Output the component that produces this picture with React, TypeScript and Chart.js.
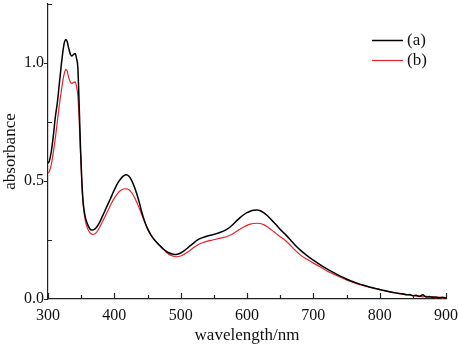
import React, { useEffect, useRef } from "react";
import { Chart, registerables } from "chart.js";

Chart.register(...registerables);

const wavelengthA = [
  300, 302, 305, 308, 311, 314, 317, 320, 323, 325, 327, 329, 331, 334, 336, 338, 341, 343, 345, 347, 349, 351, 353, 356, 360, 363, 366, 370, 374, 378, 382, 386, 390, 394, 398, 402, 406, 410, 414, 418, 422, 426, 430, 434, 438, 441, 445, 450, 455, 460, 465, 469, 474, 478, 482, 487, 491, 495, 500, 505, 510, 515, 519, 525, 530, 536, 542, 548, 554, 560, 566, 570, 575, 580, 585, 590, 595, 600, 605, 610, 615, 620, 625, 630, 635, 640, 645, 650, 657, 665, 672, 680, 690, 700, 710, 720, 730, 740, 750, 760, 770, 780, 786, 795, 800, 805, 810, 815, 820, 825, 830, 835, 840, 845, 850, 855, 860, 865, 870, 875, 880, 885, 890, 895, 900,
];
const absorbanceA = [
  0.575, 0.585, 0.625, 0.69, 0.77, 0.83, 0.91, 0.99, 1.06, 1.09, 1.1, 1.09, 1.065, 1.035, 1.03, 1.035, 1.04, 1.02, 0.98, 0.82, 0.64, 0.5, 0.41, 0.35, 0.314, 0.298, 0.292, 0.295, 0.307, 0.326, 0.35, 0.375, 0.4, 0.424, 0.45, 0.474, 0.495, 0.511, 0.522, 0.526, 0.52, 0.503, 0.477, 0.444, 0.405, 0.372, 0.335, 0.298, 0.272, 0.252, 0.236, 0.225, 0.212, 0.203, 0.196, 0.191, 0.189, 0.19, 0.195, 0.204, 0.215, 0.227, 0.236, 0.249, 0.257, 0.263, 0.268, 0.272, 0.277, 0.283, 0.29, 0.296, 0.306, 0.319, 0.333, 0.346, 0.357, 0.366, 0.372, 0.376, 0.377, 0.374, 0.366, 0.355, 0.341, 0.326, 0.311, 0.295, 0.276, 0.252, 0.23, 0.208, 0.185, 0.165, 0.146, 0.129, 0.113, 0.098, 0.085, 0.073, 0.063, 0.055, 0.05, 0.044, 0.04, 0.037, 0.034, 0.031, 0.028, 0.026, 0.023, 0.022, 0.018, 0.019, 0.014, 0.016, 0.011, 0.018, 0.008, 0.011, 0.007, 0.009, 0.005, 0.007, 0.004,
];

const wavelengthB = [
  300, 302, 305, 308, 311, 314, 317, 320, 323, 325, 327, 329, 331, 334, 336, 338, 341, 343, 345, 347, 349, 351, 353, 356, 360, 363, 367, 371, 374, 378, 382, 386, 390, 394, 398, 402, 406, 410, 414, 419, 423, 427, 431, 435, 438, 441, 445, 450, 455, 460, 465, 469, 474, 478, 482, 487, 491, 494, 500, 505, 510, 515, 519, 525, 530, 536, 542, 548, 554, 560, 565, 570, 575, 580, 585, 590, 595, 600, 605, 610, 615, 620, 625, 630, 635, 640, 645, 650, 657, 665, 672, 680, 690, 700, 710, 720, 730, 740, 750, 760, 770, 780, 786, 795, 800, 805, 810, 815, 820, 825, 830, 835, 840, 845, 850, 855, 860, 865, 870, 875, 880, 885, 890, 895, 900,
];
const absorbanceB = [
  0.534, 0.54, 0.57, 0.62, 0.68, 0.75, 0.82, 0.88, 0.935, 0.96, 0.973, 0.965, 0.94, 0.918, 0.914, 0.917, 0.92, 0.9, 0.86, 0.76, 0.62, 0.49, 0.4, 0.335, 0.296, 0.281, 0.274, 0.277, 0.286, 0.305, 0.327, 0.35, 0.373, 0.396, 0.418, 0.436, 0.451, 0.461, 0.466, 0.467, 0.461, 0.447, 0.427, 0.402, 0.382, 0.36, 0.331, 0.299, 0.273, 0.253, 0.237, 0.225, 0.21, 0.199, 0.19, 0.183, 0.18, 0.179, 0.182, 0.189, 0.198, 0.208, 0.217, 0.228, 0.235, 0.241, 0.246, 0.25, 0.254, 0.258, 0.261, 0.265, 0.271, 0.279, 0.288, 0.297, 0.305, 0.312, 0.317, 0.32, 0.321, 0.32, 0.315, 0.307, 0.297, 0.286, 0.275, 0.264, 0.25, 0.229, 0.208, 0.188, 0.169, 0.152, 0.137, 0.12, 0.106, 0.093, 0.081, 0.07, 0.061, 0.053, 0.049, 0.043, 0.04, 0.036, 0.033, 0.03, 0.028, 0.024, 0.023, 0.02, 0.02, 0.016, 0.015, 0.012, 0.013, 0.009, 0.012, 0.007, 0.01, 0.006, 0.008, 0.004, 0.006,
];

const seriesLabels = ["(a)", "(b)"];
const xTickLabels = ["300", "400", "500", "600", "700", "800", "900"];
const yTickLabels = ["0.0", "0.5", "1.0"];

const FONT = "'Liberation Serif', 'DejaVu Serif', serif";

const axisTicksPlugin = {
  id: "axisTicks",
  afterDraw(chart: any) {
    const ctx = chart.ctx;
    const xs = chart.scales.x;
    const ys = chart.scales.y;
    const area = chart.chartArea;
    ctx.save();
    ctx.strokeStyle = "#222";
    ctx.lineWidth = 1.2;
    ctx.beginPath();
    xs.ticks.forEach((t: any) => {
      const px = Math.round(xs.getPixelForValue(t.value)) + 0.5;
      const major = t.value % 100 === 0;
      const len = major ? 6 : 4;
      ctx.moveTo(px, area.bottom);
      ctx.lineTo(px, area.bottom - len);
    });
    ys.ticks.forEach((t: any) => {
      const py = Math.round(ys.getPixelForValue(t.value)) + 0.5;
      const major = Math.abs(t.value % 0.5) < 1e-9;
      if (major) {
        ctx.moveTo(area.left, py);
        ctx.lineTo(area.left - 4, py);
      } else {
        ctx.moveTo(area.left, py);
        ctx.lineTo(area.left + 4, py);
      }
    });
    ctx.stroke();

    // legend
    const ds = chart.data.datasets;
    const lx0 = 372;
    const lx1 = 403;
    ds.forEach((d: any, i: number) => {
      const y = 40 + i * 20;
      ctx.strokeStyle = d.borderColor;
      ctx.lineWidth = d.borderWidth;
      ctx.beginPath();
      ctx.moveTo(lx0, y + 0.5);
      ctx.lineTo(lx1, y + 0.5);
      ctx.stroke();
      ctx.fillStyle = "#111";
      ctx.font = `17px ${FONT}`;
      ctx.textBaseline = "middle";
      ctx.textAlign = "left";
      ctx.fillText(d.label, 407, y + 1);
    });
    ctx.restore();
  },
};

export default function App() {
  const ref = useRef<HTMLCanvasElement | null>(null);

  useEffect(() => {
    if (!ref.current) return;
    const chart = new Chart(ref.current, {
      type: "line",
      data: {
        datasets: [
          {
            label: seriesLabels[0],
            data: wavelengthA.map((w, i) => ({ x: w, y: absorbanceA[i] })),
            borderColor: "#000000",
            borderWidth: 1.5,
            pointRadius: 0,
            cubicInterpolationMode: "monotone",
            fill: false,
          },
          {
            label: seriesLabels[1],
            data: wavelengthB.map((w, i) => ({ x: w, y: absorbanceB[i] })),
            borderColor: "#e3242b",
            borderWidth: 1.2,
            pointRadius: 0,
            cubicInterpolationMode: "monotone",
            fill: false,
          },
        ],
      },
      options: {
        animation: false,
        responsive: false,
        layout: { padding: { top: 4, right: 13, left: 0, bottom: 0 } },
        plugins: {
          legend: { display: false },
          tooltip: { enabled: false },
        },
        scales: {
          x: {
            type: "linear",
            min: 300,
            max: 900,
            grid: { display: false, drawTicks: false },
            border: { display: true, color: "#222", width: 1.2 },
            ticks: {
              stepSize: 50,
              autoSkip: false,
              maxRotation: 0,
              padding: 7,
              color: "#111",
              font: { family: FONT, size: 16 },
              callback: (v: any) => {
                const s = String(v);
                return xTickLabels.includes(s) ? s : "";
              },
            },
            title: {
              display: true,
              text: "wavelength/nm",
              color: "#111",
              font: { family: FONT, size: 17 },
              padding: { top: 0, bottom: 4 },
            },
            afterFit: (scale: any) => {
              scale.height = 51;
              scale.paddingLeft = 0;
              scale.paddingRight = 0;
            },
          },
          y: {
            type: "linear",
            min: 0,
            max: 1.25,
            grid: { display: false, drawTicks: false },
            border: { display: true, color: "#222", width: 1.2 },
            ticks: {
              stepSize: 0.25,
              autoSkip: false,
              padding: 4,
              color: "#111",
              font: { family: FONT, size: 16 },
              callback: (v: any) => {
                const s = Number(v).toFixed(1);
                return Math.abs(Number(v) % 0.5) < 1e-9 && yTickLabels.includes(s) ? s : "";
              },
            },
            title: {
              display: true,
              text: "absorbance",
              color: "#111",
              font: { family: FONT, size: 17 },
              padding: { top: 0, bottom: 0 },
            },
            afterFit: (scale: any) => {
              scale.width = 48;
              scale.paddingTop = 0;
              scale.paddingBottom = 0;
            },
          },
        },
      },
      plugins: [axisTicksPlugin],
    });
    return () => chart.destroy();
  }, []);

  return (
    <div style={{ position: "fixed", left: 0, top: 0, width: 459, height: 350, background: "#fff" }}>
      <canvas ref={ref} width={459} height={350} style={{ display: "block" }} />
    </div>
  );
}
